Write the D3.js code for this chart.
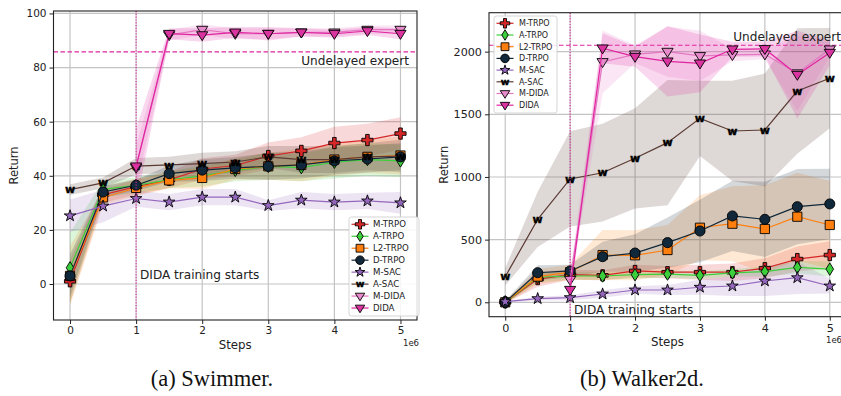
<!DOCTYPE html>
<html>
<head>
<meta charset="utf-8">
<script src="https://cdn.jsdelivr.net/npm/d3@7"></script>
<style>
  body { margin: 0; background: #fff; }
  svg { display: block; font-family: "DejaVu Sans", sans-serif; }
</style>
</head>
<body>
<svg id="chart" width="841" height="396"></svg>
<script>
// x positions (in 1e6 steps)
const steps = [0, 0.5, 1, 1.5, 2, 2.5, 3, 3.5, 4, 4.5, 5];
const didaSteps = [1, 1.5, 2, 2.5, 3, 3.5, 4, 4.5, 5];
const seriesNames = ["M-TRPO", "A-TRPO", "L2-TRPO", "D-TRPO", "M-SAC", "A-SAC", "M-DIDA", "DIDA"];
const xTicks = [0, 1, 2, 3, 4, 5];

// Swimmer
const swimTicks = [0, 20, 40, 60, 80, 100];
const swimExpert = 85.8;
const swimMTRPO = [1, 33, 36, 38.5, 42.5, 43.8, 47.3, 49.2, 52.1, 53.2, 55.6];
const swimATRPO = [6, 35, 36.5, 38.5, 40, 42, 43.5, 43, 45, 46, 45.5];
const swimL2TRPO = [3, 32, 35.5, 38.3, 39.2, 42.5, 43.5, 44, 46, 47, 47.5];
const swimDTRPO = [3, 34, 36.5, 40.8, 42.1, 42.9, 43.5, 44, 45.5, 46.2, 47];
const swimMSAC = [25.2, 28.8, 31.6, 30.3, 32.1, 32.1, 29, 31, 30.3, 30.7, 30];
const swimASAC = [34.9, 37.4, 43.6, 44, 44.5, 45.1, 47, 46, 46, 47, 47.3];
const swimMDIDA = [43, 92, 94, 92.5, 92.5, 93, 93, 94, 94];
const swimDIDA = [43.5, 92.5, 92, 93, 92.5, 93, 92.5, 93.5, 92.5];
const swimMTRPOStd = [8, 3, 3, 3, 4, 4, 5, 5, 6, 6, 6];
const swimATRPOStd = [13, 3, 3, 3, 4, 4, 5, 5, 6, 6, 6];
const swimL2TRPOStd = [11, 3, 3, 3, 4, 4, 5, 6, 6, 6, 7];
const swimDTRPOStd = [8, 2, 2, 3, 4, 4, 5, 5, 5, 5, 5];
const swimMSACStd = [6, 6, 3, 3, 3, 3, 2, 3, 3, 3, 4];
const swimASACStd = [2, 2, 3, 3, 4, 4, 4, 5, 5, 5, 6];
const swimMDIDAStd = [8, 2, 2, 2, 2, 1.5, 1.5, 1.5, 1.5];
const swimDIDAStd = [14, 2, 2.5, 2, 2.5, 1.5, 1.5, 1.5, 2];

// Walker2d
const walkTicks = [0, 500, 1000, 1500, 2000];
const walkExpert = 2051;
const walkMTRPO = [0, 185, 220, 215, 250, 240, 240, 240, 272, 345, 377];
const walkATRPO = [0, 200, 210, 210, 220, 225, 215, 235, 245, 279, 265];
const walkL2TRPO = [0, 205, 240, 377, 375, 417, 595, 627, 585, 683, 617];
const walkDTRPO = [0, 236, 250, 364, 393, 476, 569, 689, 662, 763, 785];
const walkMSAC = [5, 29, 37, 66, 98, 98, 120, 130, 170, 196, 130];
const walkASAC = [204, 662, 984, 1034, 1149, 1274, 1468, 1367, 1375, 1686, 1788];
const walkMDIDA = [180, 1918, 1979, 2000, 1966, 1974, 1979, 1828, 2019];
const walkDIDA = [100, 2027, 1960, 1923, 1907, 2019, 2022, 1816, 1992];
const walkMTRPOStd = [10, 60, 40, 40, 50, 50, 60, 70, 80, 100, 110];
const walkATRPOStd = [10, 40, 30, 30, 30, 30, 30, 30, 40, 50, 60];
const walkL2TRPOStd = [10, 60, 60, 200, 200, 200, 260, 300, 350, 350, 350];
const walkDTRPOStd = [10, 60, 50, 120, 150, 200, 250, 280, 300, 300, 280];
const walkMSACStd = [5, 15, 20, 30, 30, 40, 60, 80, 120, 130, 60];
const walkASACStd = [70, 220, 380, 390, 400, 500, 300, 400, 450, 500, 400];
const walkMDIDAStd = [60, 250, 70, 200, 200, 50, 40, 300, 60];
const walkDIDAStd = [60, 120, 80, 280, 230, 60, 60, 350, 100];

// styles per series
const styles = {
  "M-TRPO": { color: "#d62728", fill: "#d62728", marker: "plus" },
  "A-TRPO": { color: "#3ccf3c", fill: "#3ccf3c", marker: "diamond" },
  "L2-TRPO": { color: "#ff7f0e", fill: "#ff7f0e", marker: "square" },
  "D-TRPO": { color: "#10283a", fill: "#10283a", marker: "circle" },
  "M-SAC": { color: "#9467bd", fill: "#9467bd", marker: "star" },
  "A-SAC": { color: "#5a3a33", fill: "#000", marker: "w" },
  "M-DIDA": { color: "#e377c2", fill: "#e68acb", marker: "tri" },
  "DIDA": { color: "#e0249f", fill: "#d9349f", marker: "tri" }
};
const expertColor = "#e0249f";

function markerPath(type, k) {
  if (type === "plus") { const a = 5.6 * k, t = 1.8 * k;
    return `M${-t},${-a}H${t}V${-t}H${a}V${t}H${t}V${a}H${-t}V${t}H${-a}V${-t}H${-t}Z`; }
  if (type === "diamond") { const a = 6.2 * k, b = 3.8 * k;
    return `M0,${-a}L${b},0L0,${a}L${-b},0Z`; }
  if (type === "square") { const a = 4.6 * k; return `M${-a},${-a}H${a}V${a}H${-a}Z`; }
  if (type === "circle") return d3.symbol(d3.symbolCircle, 80 * k * k)();
  if (type === "star") return d3.symbol(d3.symbolStar, 42 * k * k)();
  if (type === "tri") { const a = 5.6 * k; return `M${-a},${-0.6 * a}H${a}L0,${a}Z`; }
  return null;
}

function drawMarker(g, type, st, x, y, k) {
  if (type === "w") {
    g.append("text").attr("x", x).attr("y", y).attr("dy", "0.33em")
      .attr("text-anchor", "middle").attr("font-size", 11 * k).attr("font-weight", "bold")
      .attr("fill", "#000").attr("stroke", "#000").attr("stroke-width", 0.4).text("w");
    return;
  }
  g.append("path").attr("d", markerPath(type, k))
    .attr("transform", `translate(${x},${y})`)
    .attr("fill", st.fill).attr("stroke", "#000").attr("stroke-width", 0.9);
}

const svg = d3.select("#chart");

const panels = [
  {
    id: "swim", left: 53.5, right: 417, top: 11, bottom: 320, yDomain: [-13.3, 100.9],
    yTicks: swimTicks, tickSize: 10.5, expert: swimExpert,
    data: [swimMTRPO, swimATRPO, swimL2TRPO, swimDTRPO, swimMSAC, swimASAC, swimMDIDA, swimDIDA],
    std: [swimMTRPOStd, swimATRPOStd, swimL2TRPOStd, swimDTRPOStd, swimMSACStd, swimASACStd, swimMDIDAStd, swimDIDAStd],
    returnX: 14, stepsY: 349, sciX: 411, sciY: 346, expertX: 409, expertY: 65,
    startX: 140, startY: 279, legend: { x: 349, y: 217, w: 70, h: 99, mx: 360, tx: 373, y0: 224.3, dy: 11.96, fs: 8.6 },
    caption: "(a) Swimmer.", capX: 212
  },
  {
    id: "walk", left: 489, right: 846, top: 12.7, bottom: 316.7, yDomain: [-115, 2311],
    yTicks: walkTicks, tickSize: 11.2, expert: walkExpert,
    data: [walkMTRPO, walkATRPO, walkL2TRPO, walkDTRPO, walkMSAC, walkASAC, walkMDIDA, walkDIDA],
    std: [walkMTRPOStd, walkATRPOStd, walkL2TRPOStd, walkDTRPOStd, walkMSACStd, walkASACStd, walkMDIDAStd, walkDIDAStd],
    returnX: 444, stepsY: 346, sciX: 834, sciY: 343, expertX: 841, expertY: 41,
    startX: 574, startY: 314, legend: { x: 494, y: 16, w: 63, h: 97, mx: 505, tx: 519, y0: 23.3, dy: 11.7, fs: 8 },
    caption: "(b) Walker2d.", capX: 642
  }
];

panels.forEach(p => {
  const x = d3.scaleLinear().domain([-0.25, 5.25]).range([p.left, p.right]);
  const y = d3.scaleLinear().domain(p.yDomain).range([p.bottom, p.top]);
  const g = svg.append("g");

  g.append("clipPath").attr("id", "clip-" + p.id)
    .append("rect").attr("x", p.left).attr("y", p.top)
    .attr("width", p.right - p.left).attr("height", p.bottom - p.top);
  const plot = g.append("g").attr("clip-path", `url(#clip-${p.id})`);

  // grid
  plot.selectAll(".gx").data(xTicks).join("line")
    .attr("x1", d => x(d)).attr("x2", d => x(d)).attr("y1", p.top).attr("y2", p.bottom)
    .attr("stroke", "#c4c4c4").attr("stroke-width", 1.2);
  plot.selectAll(".gy").data(p.yTicks).join("line")
    .attr("y1", d => y(d)).attr("y2", d => y(d)).attr("x1", p.left).attr("x2", p.right)
    .attr("stroke", "#c4c4c4").attr("stroke-width", 1.2);

  // bands
  seriesNames.forEach((name, i) => {
    const xs = name.includes("DIDA") ? didaSteps : steps;
    const pts = xs.map((s, j) => ({ s, v: p.data[i][j], e: p.std[i][j] }));
    const area = d3.area().x(d => x(d.s)).y0(d => y(d.v - d.e)).y1(d => y(d.v + d.e));
    plot.append("path").datum(pts).attr("d", area)
      .attr("fill", styles[name].color).attr("fill-opacity", name === "A-SAC" ? 0.2 : 0.18);
  });

  // expert line
  plot.append("line").attr("x1", p.left).attr("x2", p.right)
    .attr("y1", y(p.expert)).attr("y2", y(p.expert))
    .attr("stroke", expertColor).attr("stroke-width", 1.1).attr("stroke-dasharray", "4.5,2.5");

  // lines + markers
  seriesNames.forEach((name, i) => {
    const st = styles[name];
    const xs = name.includes("DIDA") ? didaSteps : steps;
    const pts = xs.map((s, j) => ({ s, v: p.data[i][j] }));
    const line = d3.line().x(d => x(d.s)).y(d => y(d.v));
    plot.append("path").datum(pts).attr("d", line)
      .attr("fill", "none").attr("stroke", st.color).attr("stroke-width", 1.2);
    pts.forEach(d => drawMarker(plot, st.marker, st, x(d.s), y(d.v), 1));
  });

  // DIDA start line
  plot.append("line").attr("x1", x(1)).attr("x2", x(1)).attr("y1", p.top).attr("y2", p.bottom)
    .attr("stroke", expertColor).attr("stroke-width", 1.1).attr("stroke-dasharray", "1.2,1.6");

  // texts
  g.append("text").attr("x", p.expertX).attr("y", p.expertY).attr("text-anchor", "end")
    .attr("font-size", 12.1).attr("fill", "#222").text("Undelayed expert");
  g.append("text").attr("x", p.startX).attr("y", p.startY)
    .attr("font-size", 12.1).attr("fill", "#222").text("DIDA training starts");

  // frame
  g.append("rect").attr("x", p.left).attr("y", p.top)
    .attr("width", p.right - p.left).attr("height", p.bottom - p.top)
    .attr("fill", "none").attr("stroke", "#222").attr("stroke-width", 1.1);

  // axes
  const xAxis = g.append("g").attr("transform", `translate(0,${p.bottom})`)
    .call(d3.axisBottom(x).tickValues(xTicks).tickFormat(d3.format("d")).tickSize(4).tickPadding(3));
  const yAxis = g.append("g").attr("transform", `translate(${p.left},0)`)
    .call(d3.axisLeft(y).tickValues(p.yTicks).tickFormat(d3.format("d")).tickSize(4).tickPadding(3));
  [xAxis, yAxis].forEach(a => {
    a.select(".domain").remove();
    a.selectAll("line").attr("stroke", "#222");
    a.selectAll("text").attr("font-size", p.tickSize).attr("fill", "#222")
      .attr("font-family", "DejaVu Sans, sans-serif");
  });

  g.append("text").attr("transform", `translate(${p.returnX},${(p.top + p.bottom) / 2}) rotate(-90)`)
    .attr("text-anchor", "middle").attr("dy", "0.35em").attr("font-size", 11.5).attr("fill", "#222").text("Return");
  g.append("text").attr("x", x(2.5)).attr("y", p.stepsY).attr("text-anchor", "middle")
    .attr("font-size", 11.8).attr("fill", "#222").text("Steps");
  g.append("text").attr("x", p.sciX).attr("y", p.sciY).attr("text-anchor", "middle")
    .attr("font-size", 8.5).attr("fill", "#222").text("1e6");

  // legend
  const L = p.legend;
  const lg = g.append("g");
  lg.append("rect").attr("x", L.x).attr("y", L.y).attr("width", L.w).attr("height", L.h)
    .attr("rx", 2.5).attr("fill", "#fff").attr("fill-opacity", 0.85)
    .attr("stroke", "#d0d0d0").attr("stroke-width", 0.9);
  seriesNames.forEach((name, i) => {
    const st = styles[name];
    const yy = L.y0 + i * L.dy;
    lg.append("line").attr("x1", L.mx - 8.5).attr("x2", L.mx + 8.5).attr("y1", yy).attr("y2", yy)
      .attr("stroke", st.color).attr("stroke-width", 1.2);
    drawMarker(lg, st.marker, st, L.mx, yy, 0.85);
    lg.append("text").attr("x", L.tx).attr("y", yy).attr("dy", "0.35em")
      .attr("font-size", L.fs).attr("fill", "#222").text(name);
  });

  // caption
  svg.append("text").attr("x", p.capX).attr("y", 386).attr("text-anchor", "middle")
    .attr("font-family", "Liberation Serif, serif").attr("font-size", 22.5).attr("fill", "#111")
    .text(p.caption);
});
</script>
</body>
</html>
